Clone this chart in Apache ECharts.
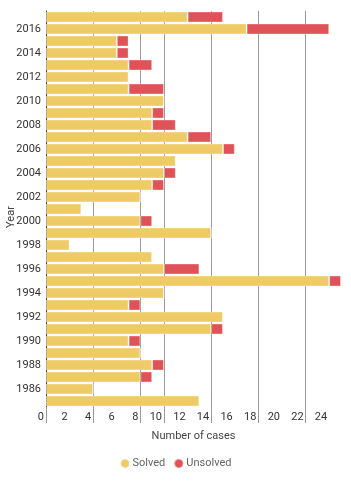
<!DOCTYPE html>
<html>
<head>
<meta charset="utf-8">
<script src="https://cdn.jsdelivr.net/npm/echarts@6/dist/echarts.min.js"></script>
<style>html,body{margin:0;padding:0;background:#fff;}#c{width:351px;height:483px;}</style>
</head>
<body>
<div id="c"></div>
<script>
const years = ['1985','1986','1987','1988','1989','1990','1991','1992','1993','1994','1995','1996','1997','1998','1999','2000','2001','2002','2003','2004','2005','2006','2007','2008','2009','2010','2011','2012','2013','2014','2015','2016','2017'];
const solved   = [13,4,8,9,8,7,14,15,7,10,24,10,9,2,14,8,3,8,9,10,11,15,12,9,9,10,7,7,7,6,6,17,12];
const unsolved = [0,0,1,1,0,1,1,0,1,0,1,3,0,0,0,1,0,0,1,1,0,1,2,2,1,0,3,0,2,1,1,7,3];
const gridValues = [0,4,8,10,14,18,22];
const xLabels = [0,2,4,6,8,10,12,14,16,18,20,22,24];
const seriesNames = ['Solved','Unsolved'];
const colors = ['#efcb68','#df5258'];

const chart = echarts.init(document.getElementById('c'), null, {renderer:'canvas'});
const font = 'Roboto, sans-serif';
chart.setOption({
  animation:false,
  textStyle:{fontFamily:font},
  color:colors,
  grid:{left:46, right:10, top:11, bottom:76, containLabel:false, outerBoundsMode:'none'},
  legend:{
    data:seriesNames, bottom:9, left:'center', icon:'circle',
    itemWidth:9, itemHeight:9, itemGap:8,
    textStyle:{color:'#666', fontSize:11, fontFamily:font, padding:[0,0,0,-2]}
  },
  xAxis:{
    type:'value', min:0, max:25, interval:2,
    name:'Number of cases', nameLocation:'middle', nameGap:24, nameMoveOverlap:false,
    nameTextStyle:{color:'#444', fontSize:11, fontFamily:font},
    axisLine:{show:false},
    axisTick:{show:true, customValues:gridValues, length:16, lineStyle:{color:'#999'}},
    axisLabel:{color:'#333', fontSize:11, fontFamily:font, align:'right', margin:5, padding:[0,2,0,0],
      customValues:xLabels},
    splitLine:{show:true, lineStyle:{color:'#999', width:1}}
  },
  yAxis:{
    type:'category', data:years,
    name:'Year', nameLocation:'middle', nameGap:29, nameMoveOverlap:false,
    nameTextStyle:{color:'#444', fontSize:11, fontFamily:font, padding:[0,0,0,-16]},
    axisLine:{show:true, lineStyle:{color:'#333'}},
    axisTick:{show:false},
    axisLabel:{color:'#333', fontSize:11, fontFamily:font, margin:5,
      interval:function(i){return i%2===1;}},
    splitLine:{show:false}
  },
  series:[
    {name:seriesNames[0], type:'bar', stack:'t', data:solved, barCategoryGap:1, z:3,
     itemStyle:{color:colors[0], borderColor:'rgba(255,255,255,0.35)', borderWidth:1}},
    {name:seriesNames[1], type:'bar', stack:'t', data:unsolved, z:3,
     itemStyle:{color:colors[1], borderColor:'rgba(255,255,255,0.35)', borderWidth:1}}
  ]
});
</script>
</body>
</html>
